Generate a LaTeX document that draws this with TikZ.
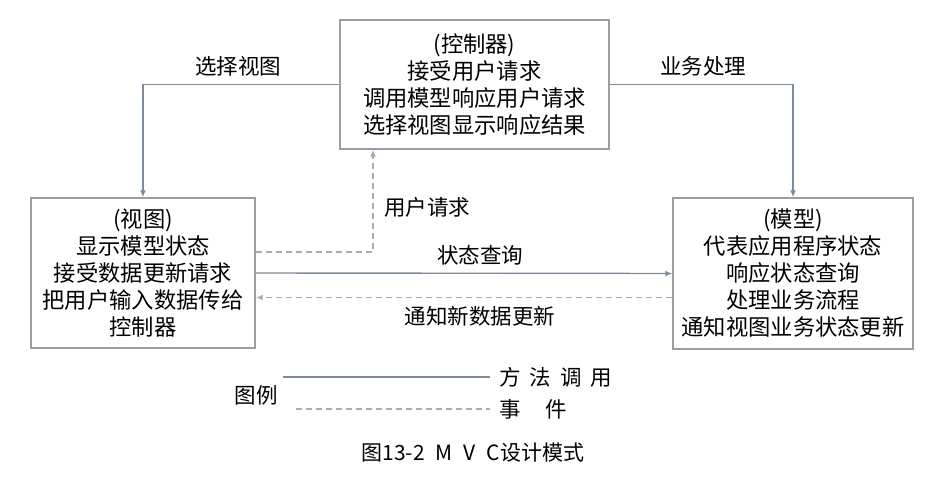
\documentclass[tikz,border=0pt]{standalone}
\usepackage{fontspec}
\setmainfont{Noto Sans CJK SC}
\usetikzlibrary{arrows.meta}

\definecolor{rahmen}{HTML}{9A9EA3}
\definecolor{linie}{HTML}{7E8C9A}
\definecolor{strich}{HTML}{A4AEB8}

\tikzset{
  kasten/.style={draw=rahmen, line width=1.4pt, align=center, inner sep=0pt,
    font=\fontsize{22.3}{27}\selectfont},
  methode/.style={draw=linie, line width=1.4pt, -{Latex[length=7pt,width=6pt]}},
  ereignis/.style={draw=strich, line width=1.4pt, dash pattern=on 6pt off 4pt, -{Latex[length=7pt,width=6pt]}},
  beschrift/.style={font=\fontsize{21.5}{25}\selectfont, inner sep=0pt}
}

\begin{document}
\begin{tikzpicture}[x=1pt, y=-1pt]

    % Rahmen des Bildes
    \useasboundingbox (0,0) rectangle (939,481);

    % 1. Die drei Bausteine
    \node[kasten, minimum width=269pt, minimum height=129pt] (ctrl) at (474.5,84.5)
      {(控制器)\\接受用户请求\\调用模型响应用户请求\\选择视图显示响应结果};
    \node[kasten, minimum width=224pt, minimum height=150pt] (view) at (143,273)
      {(视图)\\显示模型状态\\接受数据更新请求\\把用户输入数据传给\\控制器};
    \node[kasten, minimum width=240pt, minimum height=151pt] (model) at (793,273.5)
      {(模型)\\代表应用程序状态\\响应状态查询\\处理业务流程\\通知视图业务状态更新};

    % 2. Methodenaufrufe
    \draw[methode] (ctrl.west) -| (view.north);
    \draw[methode] (ctrl.east) -| (model.north);
    \draw[methode] (view.east) -- (model.west);

    % 3. Ereignisse
    \draw[ereignis] ([yshift=21pt]view.east) -| ([xshift=-101.5pt]ctrl.south);
    \draw[ereignis] ([yshift=-24pt]model.west) -- ([yshift=-24pt]model.west -| view.east);

    % 4. Beschriftung der Pfeile
    \node[beschrift] (lsel) at (238,66) {选择视图};
    \node[beschrift] (lbiz) at (703,66) {业务处理};
    \node[beschrift] (lreq) at (427,207) {用户请求};
    \node[beschrift] (lqry) at (480,255) {状态查询};
    \node[beschrift] (lnot) at (480,316) {通知新数据更新};

    % 5. Legende
    \node[beschrift] (leg) at (256,395) {图例};
    \coordinate (m1) at (283,377);
    \coordinate (m2) at (490,377);
    \coordinate (e1) at (296,409);
    \coordinate (e2) at (490,409);
    \draw[draw=linie, line width=1.4pt] (m1) -- (m2);
    \draw[draw=strich, line width=1.4pt, dash pattern=on 6pt off 4pt] (e1) -- (e2);
    \node[beschrift, anchor=west] (lmet) at (499,377) {方\hspace{9pt}法\hspace{9pt}调\hspace{9pt}用};
    \node[beschrift, anchor=west] (lev) at (499,409) {事\hspace{25pt}件};

    % 6. Bildunterschrift
    \node[font=\fontsize{21}{24}\selectfont, inner sep=0pt] (cap) at (473,453)
      {图13-2\hspace{11pt}M\hspace{11pt}V\hspace{11pt}C设计模式};

\end{tikzpicture}
\end{document}
